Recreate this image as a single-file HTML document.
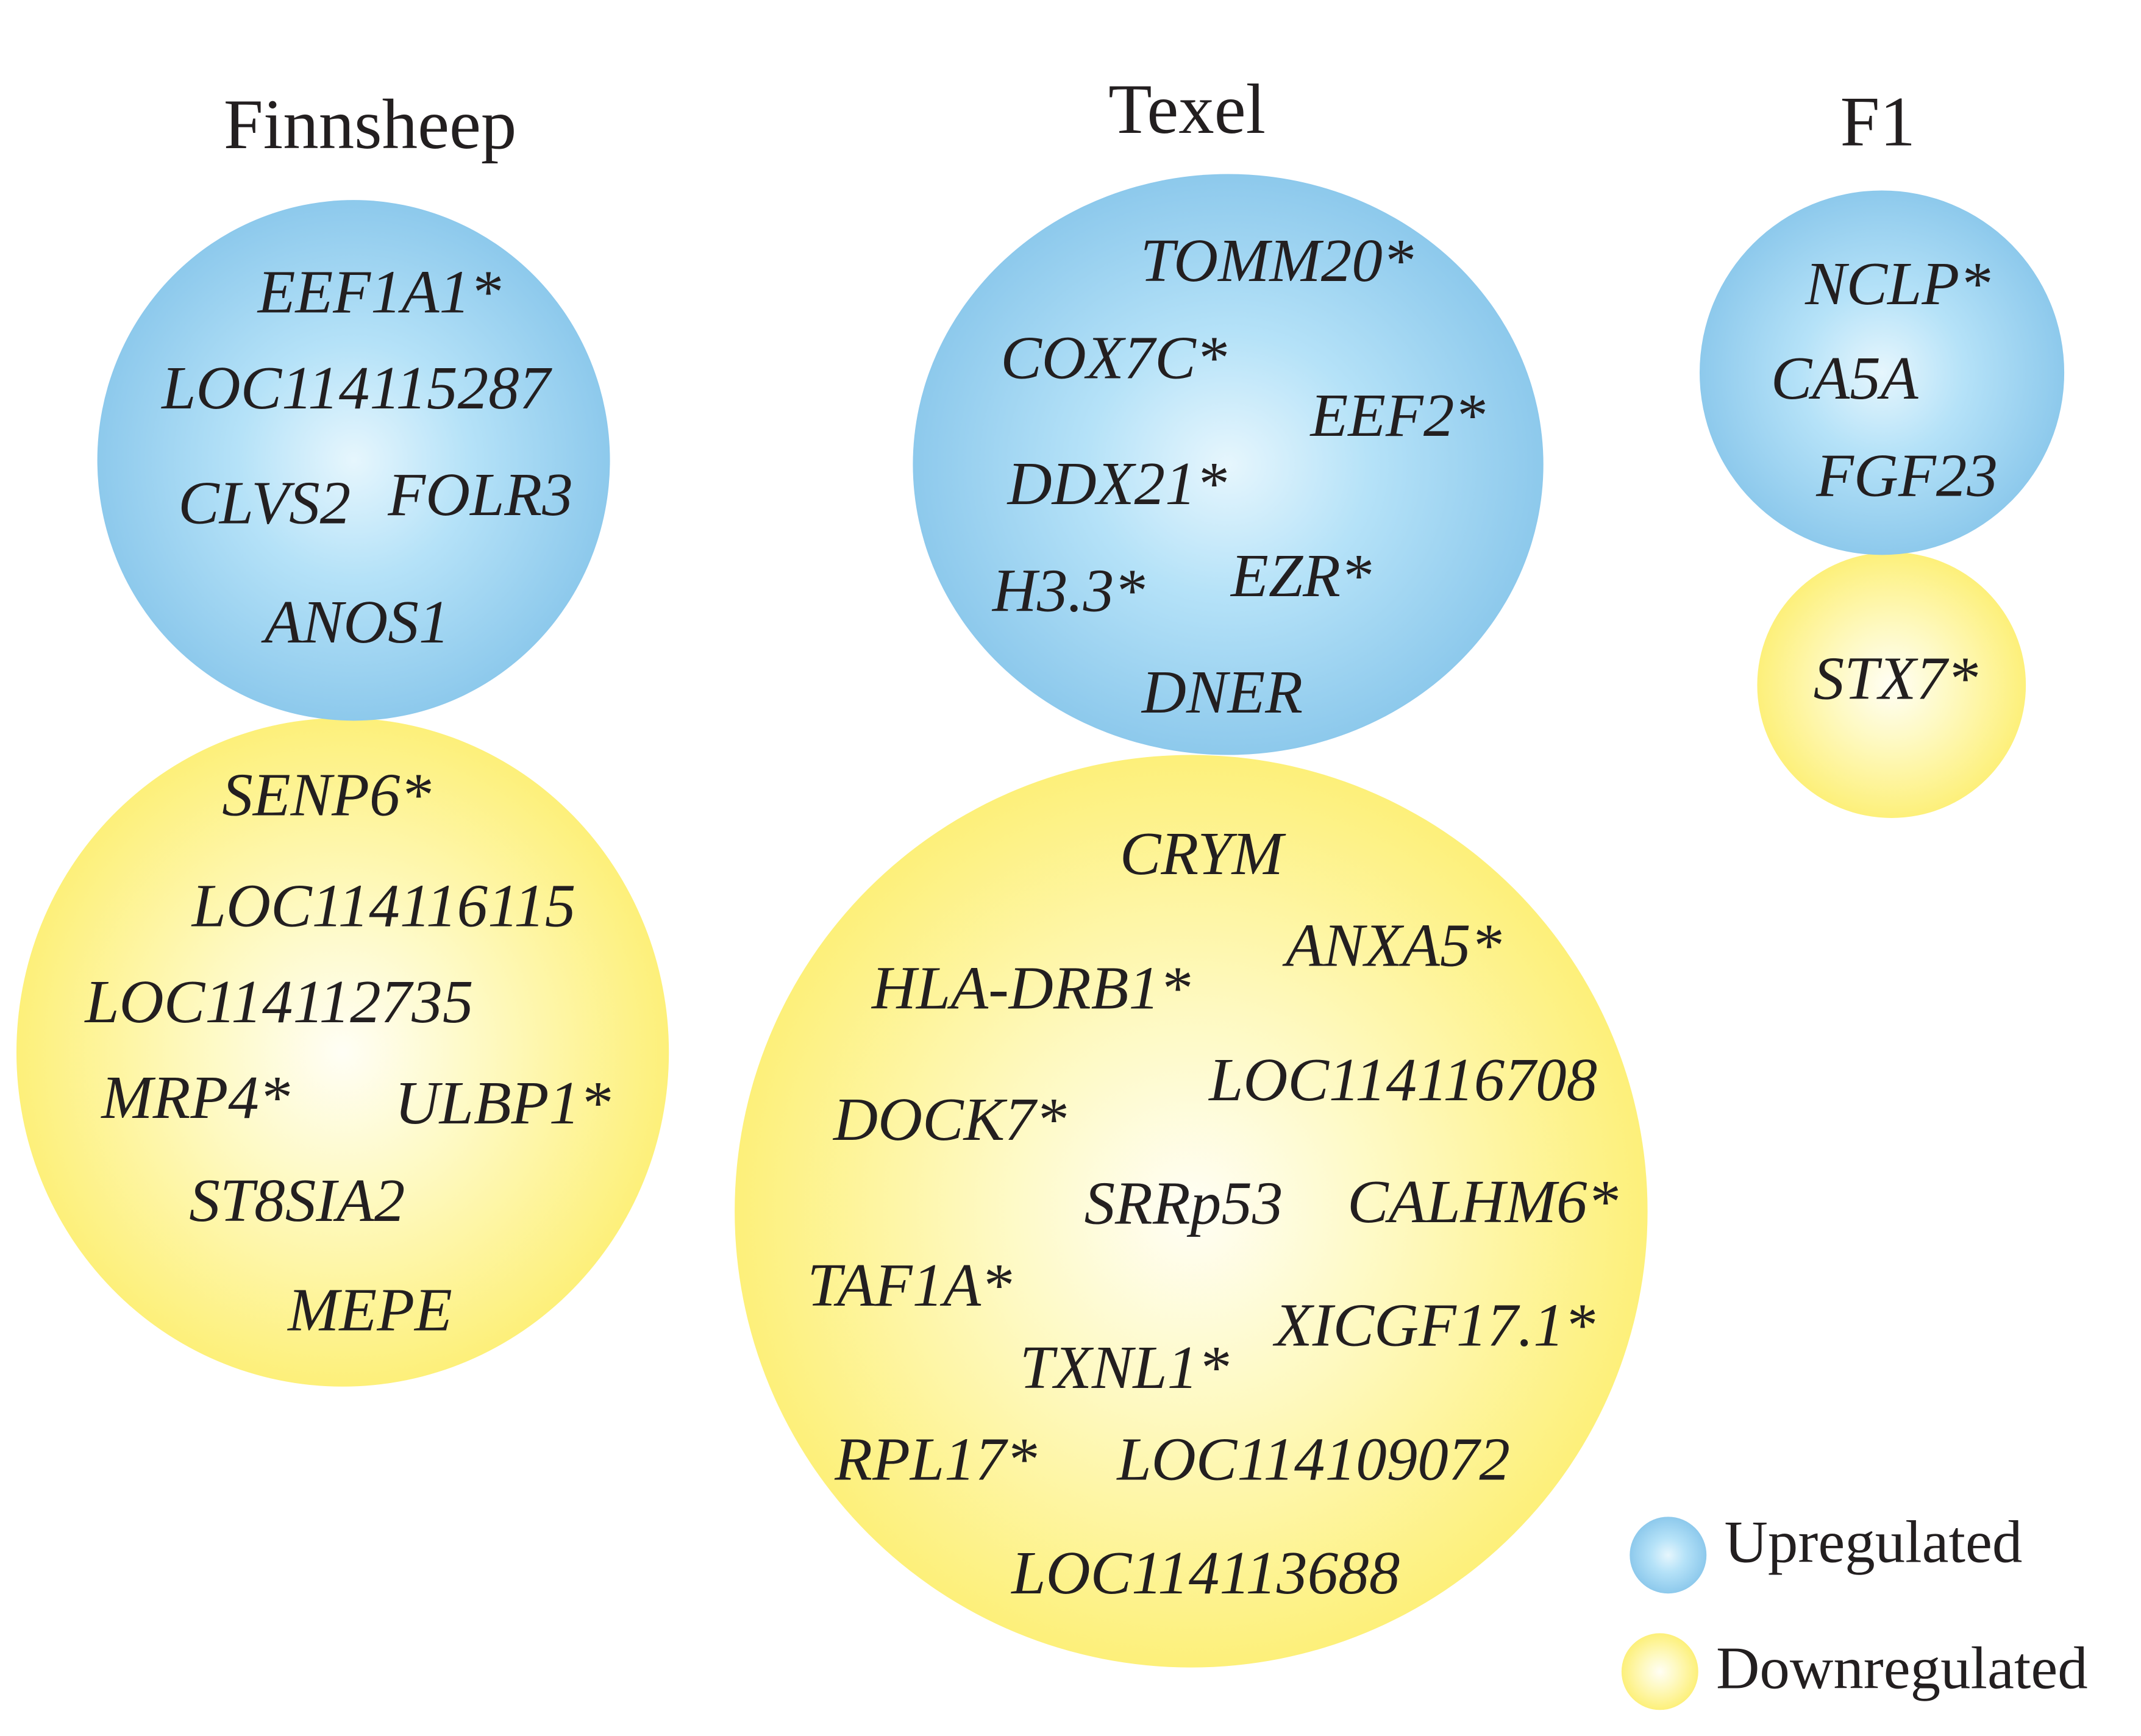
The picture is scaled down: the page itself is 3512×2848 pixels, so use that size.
<!DOCTYPE html>
<html>
<head>
<meta charset="utf-8">
<style>
html,body{margin:0;padding:0;background:#fff;}
svg{display:block;}
.g{font-family:"Liberation Serif",serif;font-style:italic;font-size:45px;fill:#231f20;}
.t{font-family:"Liberation Serif",serif;font-size:52px;fill:#231f20;}
.l{font-family:"Liberation Serif",serif;font-size:44px;fill:#231f20;}
</style>
</head>
<body>
<svg width="3512" height="2848" viewBox="0 0 1562 1267" preserveAspectRatio="none" xmlns="http://www.w3.org/2000/svg">
<defs>
<radialGradient id="b" cx="50%" cy="50%" r="50%" fx="50%" fy="50%">
<stop offset="0" stop-color="#e6f6fd"/>
<stop offset="0.45" stop-color="#b5e2f8"/>
<stop offset="1" stop-color="#8dc9ec"/>
</radialGradient>
<radialGradient id="y" cx="50%" cy="50%" r="50%" fx="50%" fy="50%">
<stop offset="0" stop-color="#fffef5"/>
<stop offset="0.45" stop-color="#fef9c0"/>
<stop offset="1" stop-color="#fdf07a"/>
</radialGradient>
</defs>
<rect width="1562" height="1267" fill="#fff"/>

<text class="t" x="270" y="108" text-anchor="middle">Finnsheep</text>
<text class="t" x="866" y="97" text-anchor="middle">Texel</text>
<text class="t" x="1370" y="106" text-anchor="middle">F1</text>

<ellipse cx="250" cy="768" rx="238" ry="244" fill="url(#y)"/>
<ellipse cx="258" cy="336" rx="187" ry="190" fill="url(#b)"/>
<ellipse cx="869" cy="884" rx="333" ry="333" fill="url(#y)"/>
<ellipse cx="896" cy="339" rx="230" ry="212" fill="url(#b)"/>
<ellipse cx="1380" cy="500" rx="98" ry="97" fill="url(#y)"/>
<ellipse cx="1373" cy="272" rx="133" ry="133" fill="url(#b)"/>
<circle cx="1217" cy="1135" r="28" fill="url(#b)"/>
<circle cx="1211" cy="1220" r="28" fill="url(#y)"/>

<text class="g" x="188" y="228">EEF1A1*</text>
<text class="g" x="118" y="298">LOC114115287</text>
<text class="g" x="130" y="382">CLVS2</text>
<text class="g" x="283" y="376">FOLR3</text>
<text class="g" x="193" y="469">ANOS1</text>

<text class="g" x="162" y="595">SENP6*</text>
<text class="g" x="140" y="676">LOC114116115</text>
<text class="g" x="62" y="746">LOC114112735</text>
<text class="g" x="74" y="816">MRP4*</text>
<text class="g" x="288" y="820">ULBP1*</text>
<text class="g" x="138" y="891">ST8SIA2</text>
<text class="g" x="210" y="971">MEPE</text>

<text class="g" x="832" y="205">TOMM20*</text>
<text class="g" x="730" y="276">COX7C*</text>
<text class="g" x="956" y="318">EEF2*</text>
<text class="g" x="735" y="368">DDX21*</text>
<text class="g" x="724" y="446">H3.3*</text>
<text class="g" x="898" y="435">EZR*</text>
<text class="g" x="833" y="520">DNER</text>

<text class="g" x="817" y="638">CRYM</text>
<text class="g" x="938" y="705">ANXA5*</text>
<text class="g" x="636" y="736">HLA-DRB1*</text>
<text class="g" x="882" y="803">LOC114116708</text>
<text class="g" x="608" y="832">DOCK7*</text>
<text class="g" x="791" y="893">SRRp53</text>
<text class="g" x="983" y="892">CALHM6*</text>
<text class="g" x="589" y="953">TAF1A*</text>
<text class="g" x="930" y="982">XICGF17.1*</text>
<text class="g" x="744" y="1013">TXNL1*</text>
<text class="g" x="609" y="1080">RPL17*</text>
<text class="g" x="815" y="1080">LOC114109072</text>
<text class="g" x="738" y="1163">LOC114113688</text>

<text class="g" x="1317" y="222">NCLP*</text>
<text class="g" x="1292" y="291">CA5A</text>
<text class="g" x="1325" y="362">FGF23</text>
<text class="g" x="1323" y="510">STX7*</text>

<text class="l" x="1258" y="1140">Upregulated</text>
<text class="l" x="1252" y="1232">Downregulated</text>
</svg>
</body>
</html>
